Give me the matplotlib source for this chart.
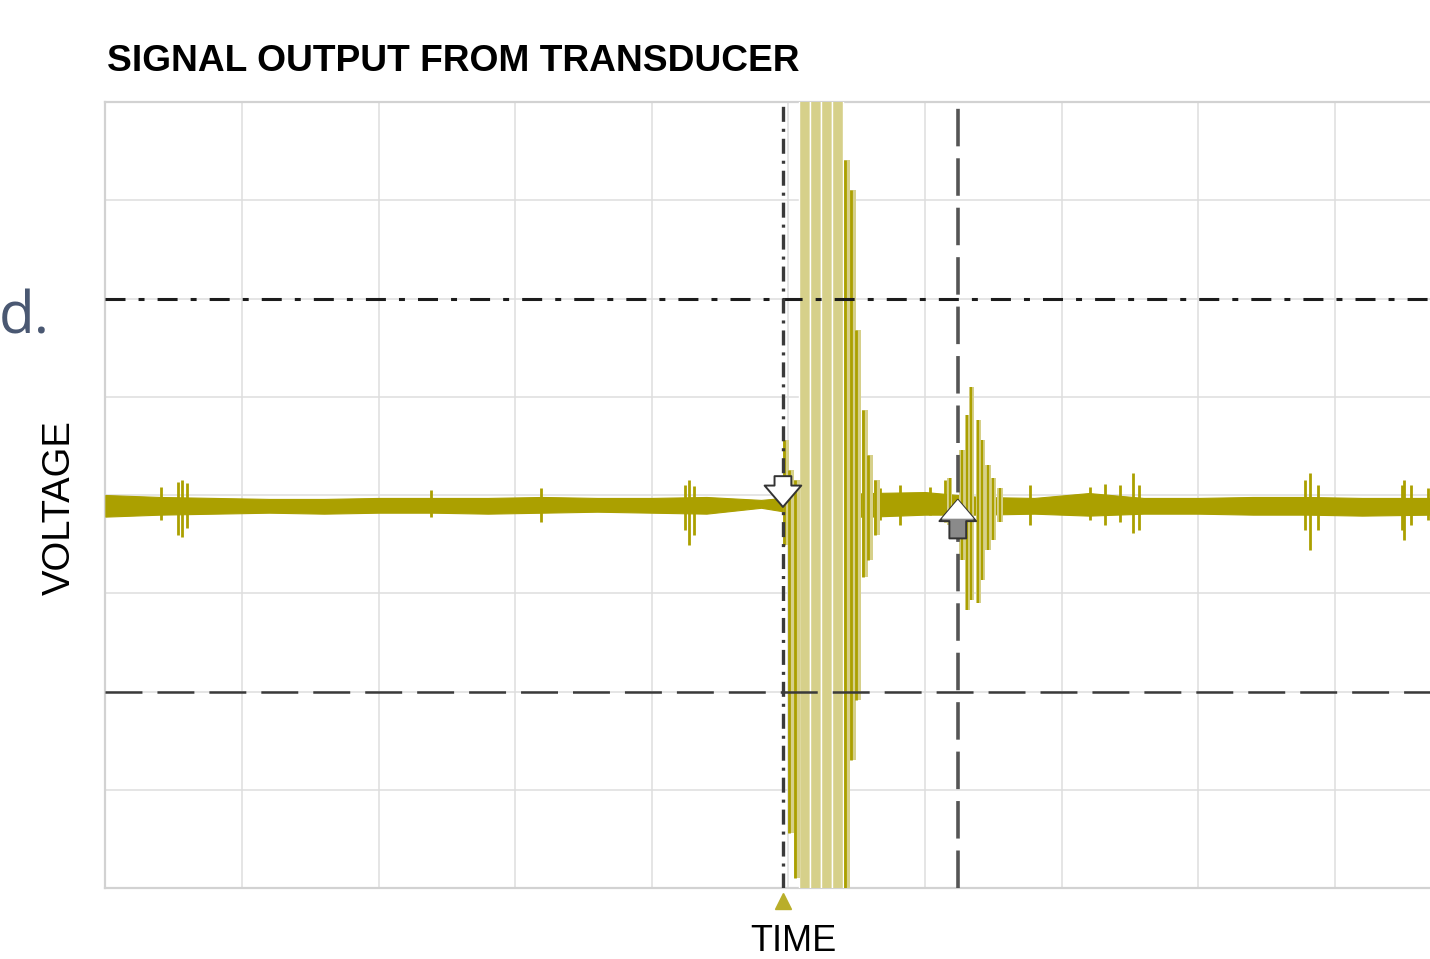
import numpy as np
import matplotlib
matplotlib.use("Agg")
import matplotlib.pyplot as plt

plt.rcParams['font.family'] = ['Liberation Sans', 'DejaVu Sans']
plt.rcParams['lines.scale_dashes'] = False

# ---------------- data (screen divisions) ----------------
title = "SIGNAL OUTPUT FROM TRANSDUCER"
xlabel = "TIME"
ylabel = "VOLTAGE"

# baseline noise envelope
base_t  = [0.0, 0.4, 0.8, 1.2, 1.6, 2.0, 2.4, 2.8, 3.2, 3.6, 4.0, 4.4, 4.8,
           5.2, 5.6, 6.0, 6.4, 6.8, 7.2, 7.6, 8.0, 8.4, 8.8, 9.2, 9.7]
base_hi = [0.00, -0.02, -0.03, -0.04, -0.04, -0.03, -0.03, -0.03, -0.02, -0.03,
           -0.03, -0.02, -0.05, 0.00, 0.02, 0.03, -0.02, -0.03, 0.02, -0.03,
           -0.03, -0.02, -0.02, -0.03, -0.03]
base_lo = [-0.22, -0.20, -0.19, -0.18, -0.19, -0.18, -0.18, -0.19, -0.18, -0.17,
           -0.18, -0.19, -0.13, -0.22, -0.22, -0.20, -0.20, -0.19, -0.21, -0.19,
           -0.19, -0.20, -0.20, -0.21, -0.20]

# isolated noise spikes
spike_t  = [0.41, 0.53, 0.56, 0.60, 2.38, 3.19, 4.24, 4.27, 4.31, 5.67, 5.82, 6.04,
            6.15, 6.77, 7.21, 7.32, 7.43, 7.52, 7.57, 8.78, 8.82, 8.88, 9.49, 9.51,
            9.56, 9.68]
spike_hi = [0.08, 0.13, 0.15, 0.12, 0.05, 0.07, 0.10, 0.15, 0.09, 0.07, 0.10, 0.08,
            0.15, 0.10, 0.08, 0.11, 0.10, 0.22, 0.10, 0.15, 0.22, 0.10, 0.10, 0.15,
            0.10, 0.07]
spike_lo = [-0.25, -0.41, -0.43, -0.34, -0.22, -0.27, -0.36, -0.51, -0.41, -0.25,
            -0.31, -0.20, -0.27, -0.31, -0.25, -0.31, -0.27, -0.39, -0.36, -0.36,
            -0.56, -0.36, -0.36, -0.46, -0.31, -0.25]

# main transmit burst (saturating)
burst_t  = [4.98, 5.02, 5.06, 5.12, 5.20, 5.28, 5.36, 5.43, 5.47, 5.51, 5.56, 5.60, 5.65]
burst_hi = [0.56, 0.25, 0.15, 4.20, 4.20, 4.20, 4.20, 3.41, 3.10, 1.68, 0.87, 0.41, 0.15]
burst_lo = [-0.51, -3.44, -3.90, -4.20, -4.20, -4.20, -4.20, -4.20, -2.70, -2.09, -0.83, -0.66, -0.41]

# echo burst
echo_t  = [6.18, 6.27, 6.31, 6.34, 6.39, 6.42, 6.46, 6.50, 6.55]
echo_hi = [0.17, 0.46, 0.81, 1.10, 0.76, 0.56, 0.31, 0.17, 0.07]
echo_lo = [-0.31, -0.66, -1.17, -1.07, -1.10, -0.87, -0.56, -0.46, -0.27]

# cursors
vcursor_a = 4.96
vcursor_b = 6.24
hcursor_a = 2.0
hcursor_b = -2.0

# ---------------- styling ----------------
TRACE = '#aba000'
KHAKI = '#d6d08a'
GRID = '#dedede'

W, H = 1430, 959
fig = plt.figure(figsize=(W / 100, H / 100), dpi=100)
fig.patch.set_facecolor('white')

x0, x1 = 105.4, 1430
y0, y1 = 102, 888
ax = fig.add_axes([x0 / W, 1 - y1 / H, (x1 - x0) / W, (y1 - y0) / H])
ax.set_xlim(0, (x1 - x0) / 136.6)
ax.set_ylim(-4, 4)
ax.set_xticks(range(0, 10))
ax.set_yticks(range(-4, 5))
ax.tick_params(length=0, labelleft=False, labelbottom=False)
ax.grid(True, color=GRID, lw=1.1)
ax.set_axisbelow(True)
for s in ['left', 'top', 'bottom']:
    ax.spines[s].set_color('#d2d2d2')
    ax.spines[s].set_linewidth(1.6)
ax.spines['right'].set_visible(False)

# baseline band
ax.fill_between(base_t, base_lo, base_hi, color=TRACE, lw=0.8, zorder=3)

# spikes
ax.vlines(spike_t, spike_lo, spike_hi, color=TRACE, lw=2.0, zorder=3)

# main burst
bt = np.array(burst_t); bh = np.array(burst_hi); bl = np.array(burst_lo)
wide = (bh >= 4.0) & (bl <= -4.0)
ax.bar(bt[wide], bh[wide] - bl[wide], bottom=bl[wide], width=0.078,
       color=KHAKI, edgecolor='white', lw=1.0, zorder=3)
ax.bar(bt[~wide], bh[~wide] - bl[~wide], bottom=bl[~wide], width=0.045,
       color=KHAKI, edgecolor='none', zorder=3)
ax.vlines(bt[~wide] - 0.015, bl[~wide], bh[~wide], color=TRACE, lw=2.0, zorder=4)

# echo burst
ax.bar(echo_t, np.array(echo_hi) - np.array(echo_lo), bottom=echo_lo, width=0.04,
       color=KHAKI, edgecolor='none', zorder=3)
ax.vlines(echo_t, echo_lo, echo_hi, color=TRACE, lw=1.6, zorder=4)

# cursor lines
ax.axhline(hcursor_a, color='#1c1c1c', lw=2.2, dashes=(14.4, 9.4, 4.3, 9.4), zorder=5)
ax.axhline(hcursor_b, color='#3a3a3a', lw=1.8, dashes=(26.6, 10.8), zorder=5)
ax.axvline(vcursor_a, color='#3a3a3a', lw=2.4, dashes=(10.8, 5, 2.2, 5), zorder=5)
ax.axvline(vcursor_b, color='#555555', lw=2.6, dashes=(27, 8.6), zorder=5)

# cursor markers
arrow_style = 'simple,head_width=1.2,head_length=0.7,tail_width=0.55'
ax.annotate('', xy=(vcursor_a, -0.15), xytext=(vcursor_a, 0.22),
            arrowprops=dict(arrowstyle=arrow_style, mutation_scale=22,
                            fc='white', ec='#333333', lw=1.4), zorder=6)
ax.annotate('', xy=(vcursor_b, -0.02), xytext=(vcursor_b, -0.47),
            arrowprops=dict(arrowstyle=arrow_style, mutation_scale=22,
                            fc='#8a8a8a', ec='#333333', lw=1.4), zorder=6)
ax.annotate('', xy=(vcursor_b, -0.02), xytext=(vcursor_b, -0.20),
            arrowprops=dict(arrowstyle='simple,head_width=1.05,head_length=0.62,tail_width=0.01',
                            mutation_scale=22, fc='white', ec='none', lw=0), zorder=7)

# trigger marker
ax.plot([vcursor_a], [-4.13], marker='^', ms=11, color='#b9ae2a', clip_on=False, zorder=6)

# texts
fig.text(107 / W, 1 - 71 / H, title, fontsize=26.7, fontweight='bold',
         ha='left', va='baseline', color='black')
fig.text(60 / W, 1 - 508 / H, ylabel, fontsize=27.5, rotation=90,
         ha='center', va='center', color='black')
fig.text(793 / W, 1 - 951 / H, xlabel, fontsize=26.0, ha='center', va='baseline', color='black')
fig.text(50 / W, 1 - 333 / H, 'd.', fontsize=42, ha='right', va='baseline',
         color='#4a5872', family=['Open Sans', 'DejaVu Sans'])

fig.savefig('out.png', dpi=100)
